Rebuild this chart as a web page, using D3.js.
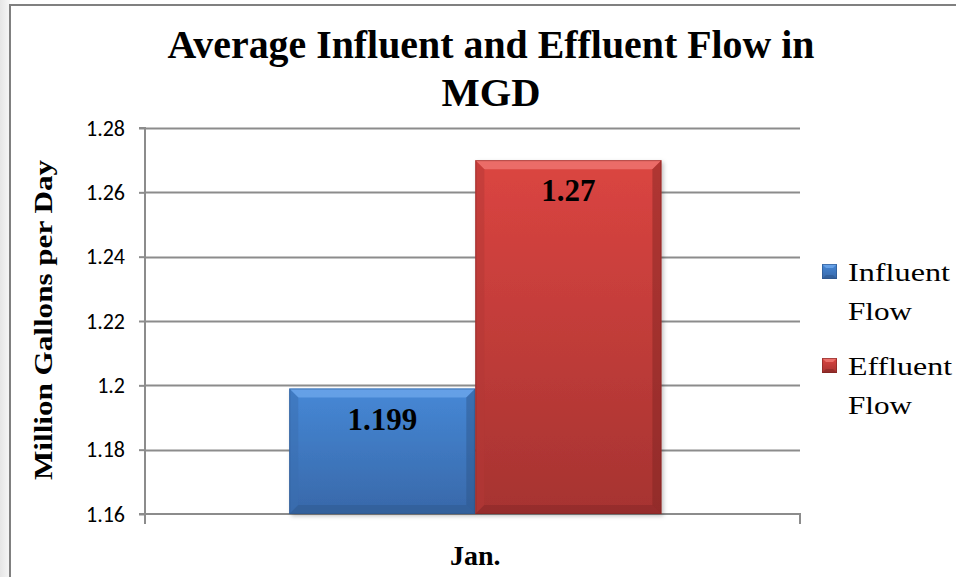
<!DOCTYPE html>
<html><head><meta charset="utf-8">
<script src="https://cdn.jsdelivr.net/npm/d3@7"></script>
<style>body{margin:0;background:#fff}svg{display:block}</style>
</head><body>
<svg id="c" width="956" height="577"></svg>
<script>
const categories = ["Jan."];
const seriesNames = ["Influent Flow", "Effluent Flow"];
const influentValues = [1.199];
const effluentValues = [1.27];
const yTicks = [1.16, 1.18, 1.2, 1.22, 1.24, 1.26, 1.28];
const yTickLabels = ["1.16", "1.18", "1.2", "1.22", "1.24", "1.26", "1.28"];
const titleLines = ["Average Influent and Effluent Flow in", "MGD"];
const yTitle = "Million Gallons per Day";

const svg = d3.select("#c");
const W = 956, H = 577;
const M = {left: 145, right: 800, top: 128, bottom: 514};

const defs = svg.append("defs");
const bg = defs.append("linearGradient").attr("id","bgL").attr("x1",0).attr("x2",1).attr("y1",0).attr("y2",0);
bg.append("stop").attr("offset",0).attr("stop-color","#e6e6e6");
bg.append("stop").attr("offset",1).attr("stop-color","#f7f7f7");
svg.append("rect").attr("x",0).attr("y",0).attr("width",10).attr("height",H).attr("fill","url(#bgL)");
svg.append("rect").attr("x",10).attr("y",5).attr("width",W-10).attr("height",H-5).attr("fill","#fff");
svg.append("path").attr("d",`M10,${H}V5H${W}`).attr("fill","none").attr("stroke","#808080").attr("stroke-width",2);

const x0 = d3.scaleBand().domain(categories).range([M.left, M.right]).paddingInner(0).paddingOuter(0.38).align(0.51);
const x1 = d3.scaleBand().domain(seriesNames).range([0, x0.bandwidth()]);
const y = d3.scaleLinear().domain([1.16, 1.28]).range([M.bottom, M.top]);

svg.append("g").selectAll("line").data(yTicks.slice(1)).join("line")
  .attr("x1", M.left).attr("x2", M.right)
  .attr("y1", d=>Math.round(y(d))+0.5).attr("y2", d=>Math.round(y(d))+0.5)
  .attr("stroke","#8c8c8c").attr("stroke-width",2);

const yAxis = d3.axisLeft(y).tickValues(yTicks).tickFormat((d,i)=>yTickLabels[i]).tickSize(6).tickPadding(14);
const gy = svg.append("g").attr("transform",`translate(${M.left},0)`).call(yAxis);
gy.select(".domain").attr("stroke","#8c8c8c").attr("stroke-width",2).attr("d",`M-6,${M.top}H0V${M.bottom}H-6`);
gy.selectAll(".tick line").attr("stroke","#8c8c8c").attr("stroke-width",2);
gy.selectAll(".tick text").attr("font-family","Carlito, 'Liberation Sans', Arial, sans-serif").attr("font-size",22).attr("fill","#000");

const xAxis = d3.axisBottom(x0).tickSize(0).tickFormat(()=>"");
const gx = svg.append("g").attr("transform",`translate(0,${M.bottom})`).call(xAxis);
gx.select(".domain").attr("stroke","#8c8c8c").attr("stroke-width",2).attr("d",`M${M.left},10V0H${M.right}V10`);

function grad(id, top, bot){
  const g = defs.append("linearGradient").attr("id",id).attr("x1",0).attr("x2",0).attr("y1",0).attr("y2",1);
  g.append("stop").attr("offset",0).attr("stop-color",top);
  g.append("stop").attr("offset",1).attr("stop-color",bot);
}
grad("gBlue","#4688d6","#3868a9");
grad("gRed","#db4541","#a63331");
const colors = {"Influent Flow": {fill:"url(#gBlue)", light:"#6fa8ec", dark:"#2c5488", side:"#3a6db0"},
                "Effluent Flow": {fill:"url(#gRed)", light:"#f07a76", dark:"#7d2422", side:"#b43835"}};

const filt = defs.append("filter").attr("id","sh").attr("x","-10%").attr("y","-10%").attr("width","130%").attr("height","130%");
filt.append("feDropShadow").attr("dx",2).attr("dy",2).attr("stdDeviation",2).attr("flood-color","#000").attr("flood-opacity",0.25);

const rows = categories.map((c,i)=>({cat:c, vals:[{s:seriesNames[0], v:influentValues[i]},{s:seriesNames[1], v:effluentValues[i]}]}));
const b = 9;
rows.forEach(r=>{
  const g = svg.append("g");
  r.vals.forEach(d=>{
    const xL = x0(r.cat)+x1(d.s), w = x1.bandwidth(), yT = y(d.v), yB = y(1.16), h = yB-yT;
    const c = colors[d.s];
    const bg2 = g.append("g");
    bg2.append("rect").attr("x",xL).attr("y",yT).attr("width",w).attr("height",h).attr("fill",c.fill).attr("filter","url(#sh)");
    bg2.append("path").attr("d",`M${xL},${yT}H${xL+w}L${xL+w-b},${yT+b}H${xL+b}Z`).attr("fill",c.light).attr("opacity",0.75);
    bg2.append("path").attr("d",`M${xL},${yT}L${xL+b},${yT+b}V${yB-b}L${xL},${yB}Z`).attr("fill",c.side).attr("opacity",0.5);
    bg2.append("path").attr("d",`M${xL+w},${yT}L${xL+w-b},${yT+b}V${yB-b}L${xL+w},${yB}Z`).attr("fill",c.dark).attr("opacity",0.45);
    bg2.append("path").attr("d",`M${xL},${yB}L${xL+b},${yB-b}H${xL+w-b}L${xL+w},${yB}Z`).attr("fill",c.dark).attr("opacity",0.4);
    bg2.append("rect").attr("x",xL+0.5).attr("y",yT+0.5).attr("width",w-1).attr("height",h-1).attr("fill","none").attr("stroke",c.dark).attr("stroke-opacity",0.5);
    g.append("text").attr("x",xL+w/2).attr("y",yT+41).attr("text-anchor","middle")
      .attr("font-family","'Liberation Serif', 'DejaVu Serif', serif").attr("font-weight","bold").attr("font-size",31).attr("fill","#000")
      .text(d.v);
  });
});

svg.append("text").attr("x",x0(categories[0])+x0.bandwidth()/2).attr("y",565).attr("text-anchor","middle")
  .attr("font-family","'Liberation Serif', serif").attr("font-weight","bold").attr("font-size",28).text(categories[0]);

svg.append("text").attr("x",491).attr("y",58).attr("text-anchor","middle")
  .attr("font-family","'Liberation Serif', serif").attr("font-weight","bold").attr("font-size",40)
  .attr("textLength",647).attr("lengthAdjust","spacingAndGlyphs").text(titleLines[0]);
svg.append("text").attr("x",491).attr("y",106).attr("text-anchor","middle")
  .attr("font-family","'Liberation Serif', serif").attr("font-weight","bold").attr("font-size",40)
  .attr("textLength",99).attr("lengthAdjust","spacingAndGlyphs").text(titleLines[1]);

svg.append("text").attr("transform","translate(52,320) rotate(-90)").attr("text-anchor","middle")
  .attr("font-family","'Liberation Serif', serif").attr("font-weight","bold").attr("font-size",25)
  .attr("textLength",320).attr("lengthAdjust","spacingAndGlyphs").text(yTitle);

const legY = [264, 358];
const legWidths = {"Influent":102, "Effluent":104, "Flow":64};
seriesNames.forEach((s,i)=>{
  const c = colors[s];
  const g = svg.append("g").attr("transform",`translate(822,${legY[i]})`);
  g.append("rect").attr("width",15).attr("height",15).attr("fill",c.fill);
  g.append("path").attr("d","M0,0H15L11,4H4Z").attr("fill",c.light).attr("opacity",0.8);
  g.append("path").attr("d","M0,15L4,11H11L15,15Z").attr("fill",c.dark).attr("opacity",0.5);
  g.append("rect").attr("x",0.5).attr("y",0.5).attr("width",14).attr("height",14).attr("fill","none").attr("stroke",c.dark).attr("stroke-opacity",0.6);
  s.split(" ").forEach((w,j)=>{
    g.append("text").attr("x",26).attr("y",17+j*39)
      .attr("font-family","'Liberation Serif', serif").attr("font-size",26).attr("fill","#000")
      .attr("textLength",legWidths[w]).attr("lengthAdjust","spacingAndGlyphs").text(w);
  });
});
</script>
</body></html>
